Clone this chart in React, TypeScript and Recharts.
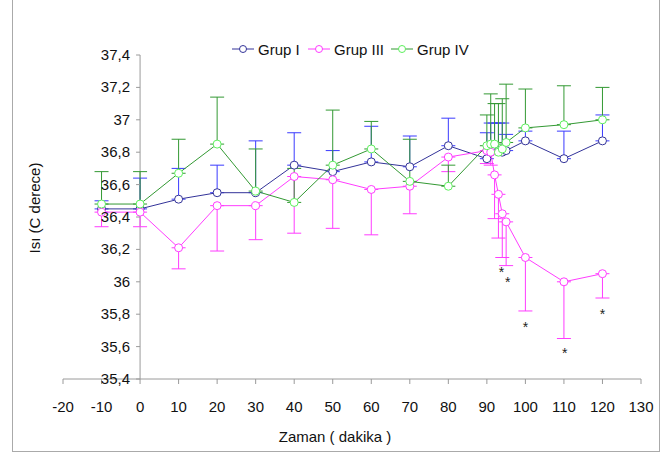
import {
  ComposedChart,
  Line,
  Scatter,
  XAxis,
  YAxis,
  ErrorBar,
  ReferenceLine,
} from "recharts";

// time points (minutes)
const minutes = [-10, 0, 10, 20, 30, 40, 50, 60, 70, 80, 90, 91, 92, 93, 94, 95, 100, 110, 120];

// Grup I: mean + upper error
const grupI = [36.45, 36.45, 36.51, 36.55, 36.55, 36.72, 36.68, 36.74, 36.71, 36.84, 36.76, 36.8, 36.82, 36.81, 36.8, 36.81, 36.87, 36.76, 36.87];
const grupIUp = [0.05, 0.19, 0.19, 0.17, 0.32, 0.2, 0.13, 0.22, 0.19, 0.17, 0.16, 0.18, 0.16, 0.17, 0.18, 0.1, 0.06, 0.17, 0.16];

// Grup III: mean + lower error
const grupIII = [36.43, 36.43, 36.21, 36.47, 36.47, 36.65, 36.63, 36.57, 36.59, 36.77, 36.81, 36.8, 36.66, 36.54, 36.42, 36.37, 36.15, 36.0, 36.05];
const grupIIIDown = [0.09, 0.09, 0.13, 0.28, 0.21, 0.35, 0.3, 0.28, 0.17, 0.09, 0.08, 0.08, 0.27, 0.27, 0.27, 0.27, 0.33, 0.35, 0.15];

// Grup IV: mean + upper error
const grupIV = [36.48, 36.48, 36.67, 36.85, 36.56, 36.49, 36.72, 36.82, 36.62, 36.59, 36.84, 36.85, 36.85, 36.8, 36.82, 36.86, 36.95, 36.97, 37.0];
const grupIVUp = [0.2, 0.2, 0.21, 0.29, 0.26, 0.21, 0.34, 0.17, 0.26, 0.13, 0.19, 0.31, 0.25, 0.3, 0.31, 0.36, 0.24, 0.24, 0.2];

// significance marks (*)
const starMinutes = [93.8, 95.4, 100, 110.2, 120];
const starValues = [36.08, 36.02, 35.74, 35.58, 35.82];

const xTicks = [-20, -10, 0, 10, 20, 30, 40, 50, 60, 70, 80, 90, 100, 110, 120, 130];
const yTicks = [35.4, 35.6, 35.8, 36, 36.2, 36.4, 36.6, 36.8, 37, 37.2, 37.4];

const rows = minutes.map((m, i) => ({
  minute: m,
  g1: grupI[i],
  g1e: [0, grupIUp[i]],
  g3: grupIII[i],
  g3e: [grupIIIDown[i], 0],
  g4: grupIV[i],
  g4e: [0, grupIVUp[i]],
}));

const stars = starMinutes.map((m, i) => ({ minute: m, value: starValues[i] }));

const W = 670;
const H = 457;
const PLOT_LEFT = 63;
const PLOT_RIGHT = 641;
const PLOT_TOP = 55;
const PLOT_BOTTOM = 379;
const Y_AXIS_W = 40;
const X_MIN = -20;
const X_MAX = 130;
// the vertical axis crosses at minute 0
const ZERO_X = PLOT_LEFT + ((PLOT_RIGHT - PLOT_LEFT) * (0 - X_MIN)) / (X_MAX - X_MIN);

const FONT = "'Liberation Sans', Arial, sans-serif";
const AXIS = "#9a9a9a";

const G1_LINE = "#333399";
const G1_ERR = "#3a3aff";
const G3 = "#ff3cff";
const G4_LINE = "#339933";
const G4_MARK = "#5cf05c";

const fmt = (v: number) => String(Math.round(v * 10) / 10).replace(".", ",");

function YTick(props: any) {
  const { y, payload } = props;
  return (
    <g>
      <line x1={ZERO_X - 4} x2={ZERO_X} y1={y} y2={y} stroke={AXIS} />
      <text
        x={ZERO_X - 10}
        y={y}
        dy={5}
        textAnchor="end"
        fontSize={15}
        fontFamily={FONT}
        fill="#111"
      >
        {fmt(payload.value)}
      </text>
    </g>
  );
}

function Star(props: any) {
  const { cx, cy } = props;
  return (
    <text x={cx} y={cy} dy={8} textAnchor="middle" fontSize={14} fontFamily={FONT} fill="#222">
      *
    </text>
  );
}

const legendItems = [
  { label: "Grup I", line: G1_LINE, mark: G1_LINE, left: 232 },
  { label: "Grup III", line: G3, mark: G3, left: 308 },
  { label: "Grup IV", line: G4_LINE, mark: G4_MARK, left: 391 },
];

export default function App() {
  return (
    <div
      style={{
        position: "absolute",
        left: 0,
        top: 0,
        width: W,
        height: H,
        background: "#fff",
        fontFamily: FONT,
        overflow: "hidden",
      }}
    >
      <div
        style={{
          position: "absolute",
          left: 12,
          top: -2,
          width: 646,
          height: 452,
          border: "1px solid #aaa",
        }}
      />
      <ComposedChart
        width={W}
        height={H}
        data={rows}
        margin={{
          top: PLOT_TOP,
          right: W - PLOT_RIGHT,
          bottom: H - PLOT_BOTTOM - 30,
          left: PLOT_LEFT - Y_AXIS_W,
        }}
      >
        <XAxis
          dataKey="minute"
          type="number"
          domain={[X_MIN, X_MAX]}
          ticks={xTicks}
          allowDataOverflow
          height={30}
          stroke={AXIS}
          tickSize={5}
          tickMargin={17}
          tick={{ fontSize: 15, fontFamily: FONT, fill: "#111" }}
        />
        <YAxis
          type="number"
          domain={[35.4, 37.4]}
          ticks={yTicks}
          interval={0}
          allowDataOverflow
          width={Y_AXIS_W}
          axisLine={false}
          tickLine={false}
          tick={<YTick />}
        />
        <ReferenceLine x={0} stroke={AXIS} />
        <Line
          dataKey="g1"
          stroke={G1_LINE}
          strokeWidth={1}
          dot={{ r: 4, stroke: G1_LINE, fill: "#fff", strokeWidth: 1 }}
          isAnimationActive={false}
        >
          <ErrorBar dataKey="g1e" direction="y" width={7} stroke={G1_ERR} strokeWidth={1} />
        </Line>
        <Line
          dataKey="g3"
          stroke={G3}
          strokeWidth={1}
          dot={{ r: 4, stroke: G3, fill: "#fff", strokeWidth: 1 }}
          isAnimationActive={false}
        >
          <ErrorBar dataKey="g3e" direction="y" width={7} stroke={G3} strokeWidth={1} />
        </Line>
        <Line
          dataKey="g4"
          stroke={G4_LINE}
          strokeWidth={1}
          dot={{ r: 4, stroke: G4_MARK, fill: "#fff", strokeWidth: 1 }}
          isAnimationActive={false}
        >
          <ErrorBar dataKey="g4e" direction="y" width={7} stroke={G4_LINE} strokeWidth={1} />
        </Line>
        <Scatter data={stars} dataKey="value" shape={<Star />} isAnimationActive={false} />
      </ComposedChart>

      {legendItems.map((it) => (
        <div
          key={it.label}
          style={{
            position: "absolute",
            left: it.left,
            top: 40,
            height: 18,
            display: "flex",
            alignItems: "center",
            fontSize: 15,
            color: "#111",
          }}
        >
          <svg width={22} height={10} style={{ marginRight: 4 }}>
            <line x1={0} x2={22} y1={5} y2={5} stroke={it.line} />
            <circle cx={11} cy={5} r={3.5} stroke={it.mark} fill="#fff" />
          </svg>
          {it.label}
        </div>
      ))}

      <div
        style={{
          position: "absolute",
          left: 0,
          width: W,
          top: 428,
          textAlign: "center",
          fontSize: 15,
          color: "#111",
        }}
      >
        Zaman ( dakika )
      </div>
      <div
        style={{
          position: "absolute",
          left: 34,
          top: 208,
          transform: "translate(-50%, -50%) rotate(-90deg)",
          whiteSpace: "nowrap",
          fontSize: 15,
          color: "#111",
        }}
      >
        Isı (C derece)
      </div>
    </div>
  );
}
